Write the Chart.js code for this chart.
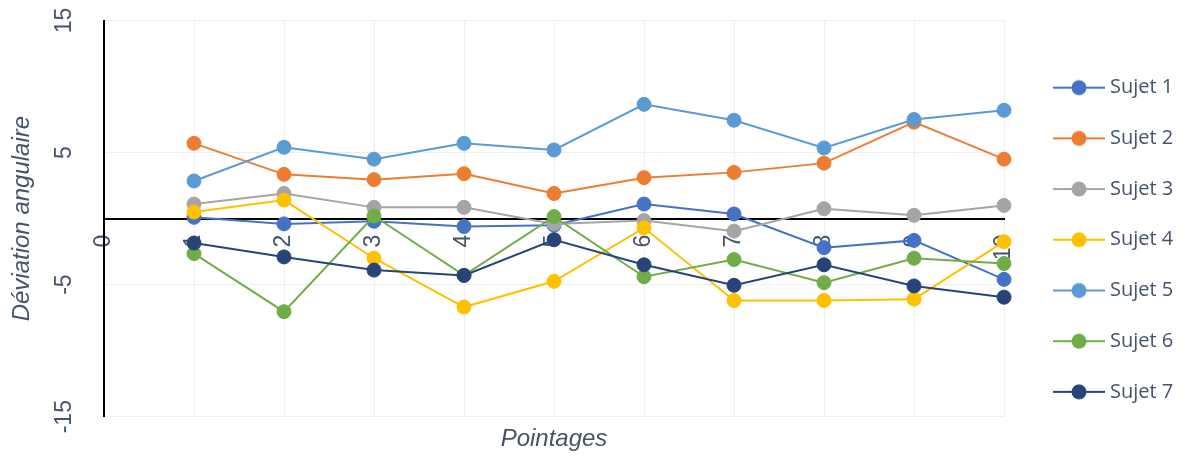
<!DOCTYPE html>
<html>
<head>
<meta charset="utf-8">
<script src="https://cdn.jsdelivr.net/npm/chart.js@4.4.1/dist/chart.umd.min.js"></script>
<style>
html,body{margin:0;padding:0;background:#ffffff;}
canvas{display:block;}
</style>
</head>
<body>
<canvas id="c" width="1188" height="459"></canvas>
<script>
// ---- data ----
const pointages = [1, 2, 3, 4, 5, 6, 7, 8, 9, 10];
const xTicks = [0, 1, 2, 3, 4, 5, 6, 7, 8, 9, 10];
const yTicks = [-15, -5, 5, 15];
const sujetNames = ['Sujet 1', 'Sujet 2', 'Sujet 3', 'Sujet 4', 'Sujet 5', 'Sujet 6', 'Sujet 7'];
const sujet1 = [0.1, -0.4, -0.2, -0.6, -0.5, 1.1, 0.35, -2.2, -1.65, -4.6];
const sujet2 = [5.7, 3.35, 2.95, 3.4, 1.9, 3.1, 3.5, 4.2, 7.3, 4.5];
const sujet3 = [1.1, 1.9, 0.85, 0.85, -0.4, -0.15, -0.95, 0.75, 0.25, 1.0];
const sujet4 = [0.5, 1.4, -3.0, -6.7, -4.75, -0.7, -6.2, -6.2, -6.1, -1.75];
const sujet5 = [2.85, 5.4, 4.5, 5.7, 5.2, 8.65, 7.45, 5.35, 7.5, 8.2];
const sujet6 = [-2.65, -7.05, 0.2, -4.3, 0.15, -4.4, -3.1, -4.85, -3.0, -3.4];
const sujet7 = [-1.85, -2.9, -3.9, -4.3, -1.6, -3.5, -5.05, -3.5, -5.1, -5.95];
const seriesValues = [sujet1, sujet2, sujet3, sujet4, sujet5, sujet6, sujet7];
const colors = ['#4472C4', '#ED7D31', '#A5A5A5', '#FFC000', '#5B9BD5', '#70AD47', '#264478'];

const textColor = '#44546A';
const gridColor = '#EEEEEE';
const tickFont = { family: "'Liberation Sans Narrow', 'Liberation Sans', sans-serif", size: 23 };
const titleFont = { family: "'Liberation Sans', sans-serif", size: 24, style: 'italic' };

// legend icons: line + marker
function makeIcon(color) {
  const cv = document.createElement('canvas');
  cv.width = 52; cv.height = 18;
  const g = cv.getContext('2d');
  g.strokeStyle = color; g.lineWidth = 2;
  g.beginPath(); g.moveTo(0, 9); g.lineTo(52, 9); g.stroke();
  g.fillStyle = color;
  g.beginPath(); g.arc(26, 9, 7.5, 0, Math.PI * 2); g.fill();
  return cv;
}
const legendIcons = colors.map(makeIcon);

const datasets = sujetNames.map((name, i) => ({
  label: name,
  data: pointages.map((p, k) => ({ x: p, y: seriesValues[i][k] })),
  borderColor: colors[i],
  backgroundColor: colors[i],
  pointBackgroundColor: colors[i],
  pointBorderColor: colors[i],
  borderWidth: 2,
  pointRadius: 7,
  pointBorderWidth: 1,
  pointHoverRadius: 7,
  tension: 0,
  clip: false,
  order: sujetNames.length - i
}));

const legendWidthPlugin = {
  id: 'legendWidth',
  afterInit(chart) {
    const lg = chart.legend;
    const f = lg.fit;
    lg.fit = function () { f.call(this); this.width = 160.7; };
  }
};

new Chart(document.getElementById('c'), {
  type: 'line',
  data: { datasets },
  plugins: [legendWidthPlugin],
  options: {
    responsive: false,
    animation: false,
    events: [],
    layout: { padding: { top: 20.5, left: 0, right: 0, bottom: 0 } },
    scales: {
      x: {
        type: 'linear', min: 0, max: 10,
        position: { y: 0 },
        afterBuildTicks: s => { s.ticks = xTicks.map(v => ({ value: v })); },
        ticks: { minRotation: 90, maxRotation: 90, padding: 16, color: textColor, font: tickFont, autoSkip: false },
        grid: { color: gridColor, drawTicks: false, lineWidth: 1 },
        border: { color: '#000000', width: 2 }
      },
      y: {
        type: 'linear', min: -15, max: 15, position: 'left',
        afterBuildTicks: s => { s.ticks = yTicks.map(v => ({ value: v })); },
        ticks: { minRotation: 90, maxRotation: 90, crossAlign: 'center', padding: 23, color: textColor, font: tickFont },
        grid: { color: gridColor, drawTicks: false, lineWidth: 1 },
        border: { color: '#000000', width: 2 },
        title: { display: true, text: 'Déviation angulaire', color: textColor, font: titleFont, padding: { top: 7.6, bottom: 0 } },
        afterFit: s => { s.width = 104; s.paddingTop = 0; s.paddingBottom = 0; }
      },
      x2: {
        type: 'linear', position: 'bottom', min: 0, max: 1,
        ticks: { display: false },
        grid: { display: false, drawTicks: false },
        border: { display: false },
        title: { display: true, text: 'Pointages', color: textColor, font: titleFont, padding: { top: 7.9, bottom: 5.6 } }
      },
      y2: {
        type: 'linear', position: 'right', min: 0, max: 1,
        ticks: { display: false },
        grid: { display: false, drawTicks: false },
        border: { display: false },
        afterFit: s => { s.width = 23.3; }
      }
    },
    plugins: {
      tooltip: { enabled: false },
      legend: {
        position: 'right',
        align: 'center',
        labels: {
          usePointStyle: true,
          pointStyleWidth: 42,
          padding: 30.7,
          color: textColor,
          font: { family: "'Open Sans', sans-serif", size: 20 },
          generateLabels(chart) {
            const items = Chart.defaults.plugins.legend.labels.generateLabels(chart);
            items.forEach(it => { it.pointStyle = legendIcons[it.datasetIndex]; });
            return items;
          },
          sort: (a, b) => a.datasetIndex - b.datasetIndex
        }
      }
    }
  }
});
</script>
</body>
</html>
